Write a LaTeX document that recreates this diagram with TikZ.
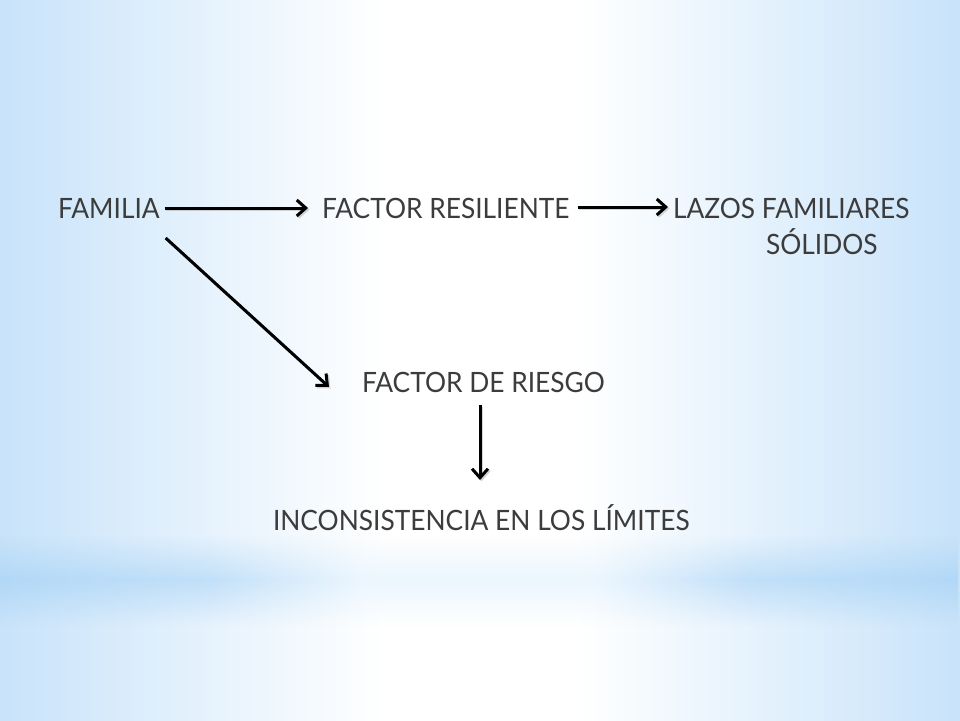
\documentclass[tikz,border=0pt]{standalone}
\usepackage{fontspec}
\setmainfont{Lato}[FakeStretch=0.94]
\usetikzlibrary{arrows.meta,calc,fadings}
\definecolor{txt}{RGB}{60,60,60}
\definecolor{edgeblue}{RGB}{200,227,250}
\definecolor{bandblue}{RGB}{178,216,247}
\definecolor{bandmid}{RGB}{236,246,254}
\pgfdeclarehorizontalshading{bgh}{100bp}{color(0bp)=(edgeblue); color(25bp)=(edgeblue); color(38bp)=(edgeblue!35!white); color(45bp)=(white); color(55bp)=(white); color(62bp)=(edgeblue!35!white); color(75bp)=(edgeblue); color(100bp)=(edgeblue)}
\pgfdeclarehorizontalshading{bandh}{100bp}{color(0bp)=(bandblue); color(25bp)=(bandblue); color(36bp)=(bandblue!80!white); color(44bp)=(bandmid); color(56bp)=(bandmid); color(64bp)=(bandblue!80!white); color(75bp)=(bandblue); color(100bp)=(bandblue)}
\tikzfading[name=bandfade, top color=transparent!100, bottom color=transparent!100, middle color=transparent!0]
\tikzset{
  lbl/.style={inner sep=0pt, outer sep=0pt, text=txt, font=\fontsize{28}{36}\selectfont, anchor=base west},
  conn/.style={draw=black, line width=3pt, -{Straight Barb[length=9pt,width=16pt]},
    preaction={draw=black!45, opacity=0.35, line width=3pt, transform canvas={shift={(1.5pt,-1.5pt)}}}}
}
\begin{document}
\begin{tikzpicture}[x=1pt,y=-1pt]
\useasboundingbox (0,0) rectangle (960,720);
% background
\shade[shading=bgh] (0,0) rectangle (960,720);
\shade[shading=bandh, path fading=bandfade] (0,535) rectangle (960,625);
% nodes
\node[lbl] (fam) at (58,218) {FAMILIA};
\node[lbl] (res) at (322,218) {FACTOR RESILIENTE};
\node[lbl, align=left] (laz) at (673,254) {LAZOS FAMILIARES\\\hspace*{93pt}SÓLIDOS};
\node[lbl] (risk) at (362,392) {FACTOR DE RIESGO};
\node[lbl] (inc) at (273,530) {INCONSISTENCIA EN LOS LÍMITES};
% connectors
\draw[conn] ($(fam.base east)+(5,-10)$) -- ($(res.base west)+(-14,-10)$);
\draw[conn] ($(res.base east)+(8,-11)$) -- ($(laz.base west)+(-5,-47)$);
\draw[conn] ($(fam.base east)+(6,20)$) -- ($(risk.base west)+(-33,-5)$);
\coordinate (vs) at ($(risk.base west)+(118,13)$);
\coordinate (ve) at ($(inc.base)+(0,-50)$);
\draw[conn] (vs) -- (vs |- ve);
\end{tikzpicture}
\end{document}
